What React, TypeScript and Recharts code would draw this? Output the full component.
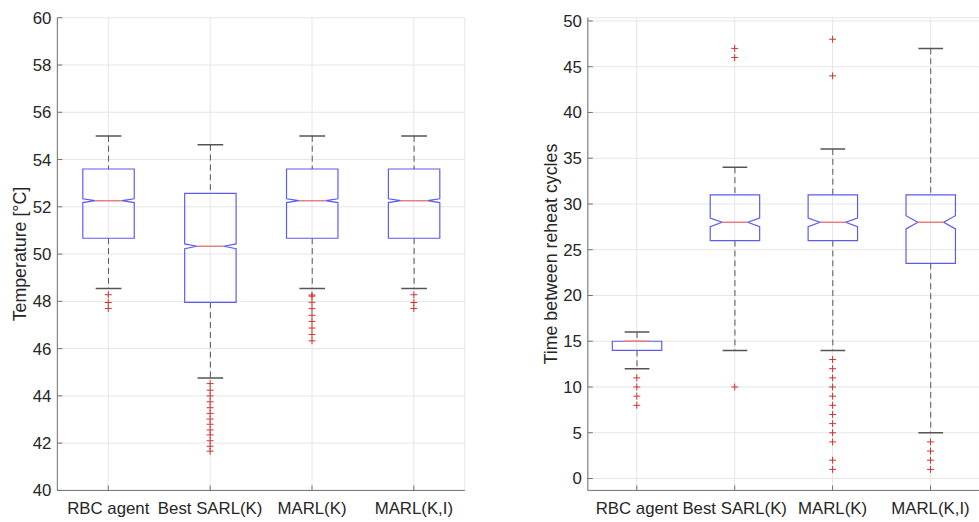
import { Bar, CartesianGrid, ComposedChart, Scatter, XAxis, YAxis } from "recharts";

// ---- left panel: temperature ----
const categories = ["RBC agent", "Best SARL(K)", "MARL(K)", "MARL(K,I)"];

const tempWhiskerLow = [48.54, 44.76, 48.54, 48.54];
const tempQ1 = [50.67, 47.96, 50.67, 50.67];
const tempMedian = [52.26, 50.33, 52.26, 52.26];
const tempQ3 = [53.6, 52.57, 53.6, 53.6];
const tempWhiskerHigh = [55.0, 54.63, 55.0, 55.0];
const tempNotch = [0.08, 0.1, 0.08, 0.08];
const tempOutliers = [
    [48.28, 47.95, 47.7],
    [44.52, 44.24, 44.0, 43.75, 43.5, 43.26, 43.02, 42.8, 42.56, 42.35, 42.1, 41.87, 41.66],
    [48.27, 48.22, 47.96, 47.69, 47.41, 47.15, 46.87, 46.6, 46.33],
    [48.28, 47.95, 47.7],
];
const tempTicks = [40, 42, 44, 46, 48, 50, 52, 54, 56, 58, 60];

// ---- right panel: time between reheat cycles ----
const cycleWhiskerLow = [12, 14, 14, 5];
const cycleQ1 = [14, 26, 26, 23.5];
const cycleMedian = [15, 28, 28, 28];
const cycleQ3 = [15, 31, 31, 31];
const cycleWhiskerHigh = [16, 34, 36, 47];
const cycleNotch = [0, 0.47, 0.47, 0.72];
const cycleOutliers = [
    [11, 10, 9, 8],
    [47, 46, 10],
    [48, 44, 13, 12, 11, 10, 9, 8, 7, 6, 5, 4, 2, 1],
    [4, 3, 2, 1],
];
const cycleTicks = [0, 5, 10, 15, 20, 25, 30, 35, 40, 45, 50];

const BOX_COLOR = "#5b5bf0";
const MEDIAN_COLOR = "#e88080";
const WHISKER_COLOR = "#555555";
const OUTLIER_COLOR = "#d32f2f";
const AXIS_COLOR = "#707070";
const FONT = "'Liberation Sans', Arial, sans-serif";

function buildRows(
    wLow: number[],
    q1: number[],
    med: number[],
    q3: number[],
    wHigh: number[],
    notch: number[]
) {
    return categories.map((name, i) => ({
        name,
        base: wLow[i],
        lowW: q1[i] - wLow[i],
        box: q3[i] - q1[i],
        highW: wHigh[i] - q3[i],
        q1: q1[i],
        median: med[i],
        q3: q3[i],
        notch: notch[i],
    }));
}

function buildOutliers(list: number[][]) {
    const out: { x: number; v: number }[] = [];
    list.forEach((vals, i) => vals.forEach((v) => out.push({ x: i + 1, v })));
    return out;
}

const EmptyShape = () => <g />;

const LowWhisker = (props: any) => {
    const { x, y, width, height } = props;
    const cx = x + width / 2;
    return (
        <g>
            <line x1={cx} x2={cx} y1={y} y2={y + height} stroke={WHISKER_COLOR} strokeDasharray="6 4" />
            <line x1={cx - width / 4} x2={cx + width / 4} y1={y + height} y2={y + height} stroke={WHISKER_COLOR} strokeWidth={1.5} />
        </g>
    );
};

const HighWhisker = (props: any) => {
    const { x, y, width, height } = props;
    const cx = x + width / 2;
    return (
        <g>
            <line x1={cx} x2={cx} y1={y} y2={y + height} stroke={WHISKER_COLOR} strokeDasharray="6 4" />
            <line x1={cx - width / 4} x2={cx + width / 4} y1={y} y2={y} stroke={WHISKER_COLOR} strokeWidth={1.5} />
        </g>
    );
};

// notched box, median position interpolated inside the bar the library placed
const NotchedBox = (props: any) => {
    const { x, y, width, height, payload } = props;
    const { q1, q3, median, notch } = payload;
    const k = height / (q3 - q1);
    const yOf = (v: number) => y + (q3 - v) * k;
    const ind = width * 0.24;
    const yHi = yOf(Math.min(median + notch, q3));
    const yLo = yOf(Math.max(median - notch, q1));
    const yMed = yOf(median);
    const yTop = y;
    const yBot = y + height;
    const pts = [
        [x, yTop],
        [x + width, yTop],
        [x + width, yHi],
        [x + width - ind, yMed],
        [x + width, yLo],
        [x + width, yBot],
        [x, yBot],
        [x, yLo],
        [x + ind, yMed],
        [x, yHi],
    ]
        .map((p) => p.join(","))
        .join(" ");
    return (
        <g>
            <polygon points={pts} fill="none" stroke={BOX_COLOR} strokeWidth={1.2} />
            <line x1={x + ind} x2={x + width - ind} y1={yMed} y2={yMed} stroke={MEDIAN_COLOR} strokeWidth={1.5} />
        </g>
    );
};

const PlusMark = (props: any) => {
    const { cx, cy } = props;
    if (cx == null || cy == null) return <g />;
    return (
        <g stroke={OUTLIER_COLOR} strokeWidth={1}>
            <line x1={cx - 3.5} x2={cx + 3.5} y1={cy} y2={cy} />
            <line x1={cx} x2={cx} y1={cy - 3.5} y2={cy + 3.5} />
        </g>
    );
};

const NoTick = () => <g />;

interface BoxPanelProps {
    rows: ReturnType<typeof buildRows>;
    outliers: { x: number; v: number }[];
    domain: [number, number];
    ticks: number[];
    yLabel: string;
    width: number;
    marginLeft: number;
    marginRight: number;
}

function BoxPanel({ rows, outliers, domain, ticks, yLabel, width, marginLeft, marginRight }: BoxPanelProps) {
    const tickStyle = { fill: "#262626", fontSize: 17, fontFamily: FONT };
    return (
        <ComposedChart
            width={width}
            height={522}
            data={rows}
            margin={{ top: 15, right: marginRight, bottom: 0, left: marginLeft }}
            barCategoryGap="25%"
            style={{ fontFamily: FONT }}
        >
            <CartesianGrid stroke="#e6e6e6" />
            <XAxis
                dataKey="name"
                height={29}
                tick={tickStyle}
                tickSize={-5}
                tickMargin={17}
                tickLine={{ stroke: AXIS_COLOR }}
                axisLine={{ stroke: AXIS_COLOR }}
                interval={0}
            />
            <XAxis xAxisId="top" orientation="top" dataKey="name" height={0} tick={NoTick} tickSize={-5} tickLine={{ stroke: AXIS_COLOR }} axisLine={{ stroke: AXIS_COLOR }} interval={0} />
            <XAxis xAxisId="num" type="number" dataKey="x" domain={[0.5, 4.5]} hide />
            <YAxis
                width={30}
                domain={domain}
                ticks={ticks}
                allowDataOverflow
                interval={0}
                tick={tickStyle}
                tickSize={-5}
                tickMargin={11}
                tickLine={{ stroke: AXIS_COLOR }}
                axisLine={{ stroke: AXIS_COLOR }}
                label={{
                    value: yLabel,
                    angle: -90,
                    position: "center",
                    dx: -23,
                    style: { fill: "#262626", fontSize: 18, fontFamily: FONT, textAnchor: "middle" },
                }}
            />
            <YAxis yAxisId="right" orientation="right" width={0} domain={domain} ticks={ticks} allowDataOverflow interval={0} tick={NoTick} tickSize={-5} tickLine={{ stroke: AXIS_COLOR }} axisLine={{ stroke: AXIS_COLOR }} />
            <Bar dataKey="base" stackId="b" shape={EmptyShape} isAnimationActive={false} />
            <Bar dataKey="lowW" stackId="b" shape={LowWhisker} isAnimationActive={false} />
            <Bar dataKey="box" stackId="b" shape={NotchedBox} isAnimationActive={false} />
            <Bar dataKey="highW" stackId="b" shape={HighWhisker} isAnimationActive={false} />
            <Scatter data={outliers} dataKey="v" xAxisId="num" shape={PlusMark} isAnimationActive={false} />
        </ComposedChart>
    );
}

export default function App() {
    const tempRows = buildRows(tempWhiskerLow, tempQ1, tempMedian, tempQ3, tempWhiskerHigh, tempNotch);
    const cycleRows = buildRows(cycleWhiskerLow, cycleQ1, cycleMedian, cycleQ3, cycleWhiskerHigh, cycleNotch);
    return (
        <div
            style={{
                position: "absolute",
                left: 0,
                top: 0,
                width: 979,
                height: 522,
                overflow: "hidden",
                display: "flex",
                background: "#ffffff",
            }}
        >
            <BoxPanel
                rows={tempRows}
                outliers={buildOutliers(tempOutliers)}
                domain={[40, 60]}
                ticks={tempTicks}
                yLabel="Temperature [°C]"
                width={490}
                marginLeft={28}
                marginRight={20}
            />
            <BoxPanel
                rows={cycleRows}
                outliers={buildOutliers(cycleOutliers)}
                domain={[-1.3, 50.35]}
                ticks={cycleTicks}
                yLabel="Time between reheat cycles"
                width={500}
                marginLeft={74}
                marginRight={0}
            />
        </div>
    );
}
